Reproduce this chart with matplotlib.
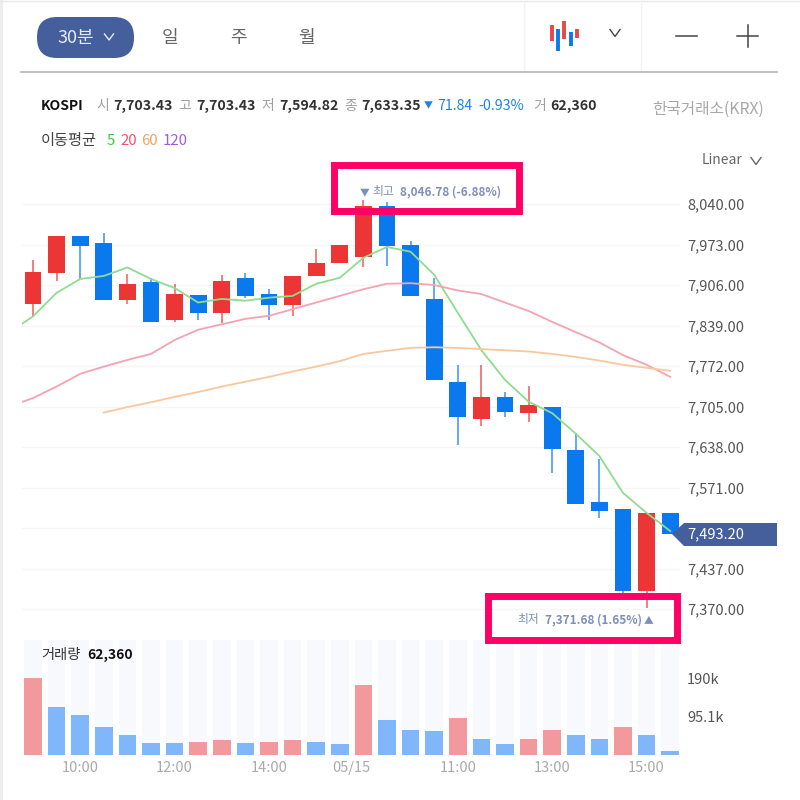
import numpy as np
import matplotlib
matplotlib.use("Agg")
import matplotlib.pyplot as plt
from matplotlib.patches import FancyBboxPatch, Polygon, Rectangle

plt.rcParams['font.family'] = ['Noto Sans CJK KR', 'DejaVu Sans']

# Candle values
opens = [7875, 7926, 7987, 7976, 7881, 7911, 7848, 7889, 7860, 7918, 7891, 7873, 7921, 7942,
         7952, 8037, 7972, 7883, 7746, 7684, 7721, 7695, 7705, 7633, 7547, 7535, 7400, 7529]
closes = [7928, 7987, 7970, 7881, 7908, 7844, 7891, 7860, 7913, 7887, 7873, 7921, 7942, 7973,
          8037, 7970, 7887, 7749, 7688, 7721, 7696, 7707, 7635, 7543, 7532, 7400, 7529, 7494]
highs = [7947, 7987, 7987, 7992, 7924, 7918, 7908, 7889, 7923, 7926, 7899, 7921, 7966, 7973,
         8047, 8043, 7978, 7918, 7774, 7774, 7729, 7739, 7705, 7661, 7618, 7535, 7529, 7529]
lows = [7854, 7913, 7916, 7881, 7875, 7844, 7845, 7848, 7843, 7884, 7848, 7855, 7921, 7942,
        7936, 7938, 7887, 7749, 7641, 7673, 7688, 7680, 7595, 7543, 7520, 7385, 7372, 7494]

# moving averages, first value sits one candle left of the axes
ma5 = [7828, 7854, 7893, 7916, 7921, 7935, 7916, 7901, 7877, 7883, 7880, 7885, 7888, 7908, 7918,
       7951, 7969, 7961, 7923, 7860, 7798, 7749, 7713, 7694, 7660, 7623, 7562, 7529, 7499]
ma20 = [7705, 7719, 7738, 7759, 7771, 7782, 7792, 7815, 7832, 7841, 7850, 7855, 7866, 7877, 7888,
        7899, 7908, 7909, 7906, 7897, 7891, 7877, 7863, 7845, 7828, 7811, 7790, 7774, 7754]
ma60 = [7695, 7704, 7712, 7721, 7729, 7738, 7746, 7754, 7763, 7771, 7780, 7792, 7797, 7802, 7803,
        7802, 7800, 7798, 7796, 7792, 7787, 7781, 7774, 7769, 7764]

volumes = [189, 118, 99, 68, 48.5, 30, 30, 33, 36, 30, 33, 36, 33, 26,
           172, 86, 62, 58, 90.5, 39.5, 26, 39.5, 62, 48.5, 39.5, 68, 48.5, 10.7]
volume_up = [1, 0, 0, 0, 0, 0, 0, 1, 1, 0, 1, 1, 0, 0,
             1, 0, 0, 0, 1, 0, 0, 1, 1, 0, 0, 1, 0, 0]

# 7,504 sits behind the current price badge, only its grid line shows
price_ticks = [8040, 7973, 7906, 7839, 7772, 7705, 7638, 7571, 7504, 7437, 7370]
price_labels = ['8,040.00', '7,973.00', '7,906.00', '7,839.00', '7,772.00', '7,705.00',
                '7,638.00', '7,571.00', '', '7,437.00', '7,370.00']
volume_ticks = [95.1, 190]
volume_tick_labels = ['95.1k', '190k']
time_ticks = [2, 6, 10, 13.5, 18, 22, 26]
time_labels = ['10:00', '12:00', '14:00', '05/15', '11:00', '13:00', '15:00']
last_price = 7493.20

RED = '#ec3636'
BLUE = '#0b79ee'
RED_V = '#f1999d'
BLUE_V = '#80b7fa'
NAVY = '#445f9c'
PINK = '#ff0066'
ANNOT = '#7f8fba'

# pixel layout of the panels
LEFT, RIGHT = 22, 680
STEP = 23.6
FIRST = 33
PX_PER_WON = 40.5 / 67


def panel(top, bottom):
    return [LEFT / 800, 1 - bottom / 800, (RIGHT - LEFT) / 800, (bottom - top) / 800]


fig = plt.figure(figsize=(8, 8), dpi=100)

# Price panel
ax = fig.add_axes(panel(175, 640))
ax.set_xlim((LEFT - FIRST) / STEP, (RIGHT - FIRST) / STEP)
ax.set_ylim(8040 - (640 - 204) / PX_PER_WON, 8040 + (204 - 175) / PX_PER_WON)

xs = np.arange(len(opens))
for i in xs:
    color = RED if closes[i] >= opens[i] else BLUE
    ax.vlines(i, lows[i], highs[i], color=color, lw=1.2, alpha=0.75, zorder=2)
    ax.bar(i, abs(closes[i] - opens[i]), bottom=min(opens[i], closes[i]), width=0.72,
           color=color, zorder=3)

ax.plot(np.arange(-1, 28), ma5, color='#8fdc90', lw=1.3, zorder=4)
ax.plot(np.arange(-1, 28), ma20, color='#f3a3b2', lw=1.3, zorder=4)
ax.plot(np.arange(3, 28), ma60, color='#f9c79e', lw=1.3, zorder=4)

ax.set_yticks(price_ticks)
ax.set_yticklabels(price_labels)
ax.yaxis.tick_right()
ax.tick_params(axis='y', length=0, pad=5, labelsize=10.5, labelcolor='#555555')
ax.set_xticks([])
ax.grid(axis='y', color='#f6f6f6', lw=1)
ax.set_axisbelow(True)
for s in ax.spines.values():
    s.set_visible(False)

# Volume panel
vax = fig.add_axes(panel(640, 755))
vax.set_xlim(ax.get_xlim())
vax.set_ylim(0, 115 * 190 / 77)
vax.bar(xs, [vax.get_ylim()[1]] * len(xs), width=0.74, color='#f7f9fc', zorder=1)
vax.bar(xs, volumes, width=0.74, color=[RED_V if u else BLUE_V for u in volume_up], zorder=2)
vax.set_yticks(volume_ticks)
vax.set_yticklabels(volume_tick_labels)
vax.yaxis.tick_right()
vax.tick_params(axis='y', length=0, pad=5, labelsize=10.5, labelcolor='#555555')
vax.set_xticks(time_ticks)
vax.set_xticklabels(time_labels)
vax.tick_params(axis='x', length=0, pad=4, labelsize=10.5, labelcolor='#aaaaaa')
for s in vax.spines.values():
    s.set_visible(False)

# Overlay in pixel coordinates for the page furniture
top = fig.add_axes([0, 0, 1, 1], zorder=10)
top.set_xlim(0, 800)
top.set_ylim(800, 0)
top.axis('off')
top.patch.set_alpha(0)


def label(x, y, s, color='#222222', size=10, weight='normal', ha='left'):
    top.text(x, y, s, color=color, fontsize=size, fontweight=weight, ha=ha, va='center')


def chevron(x, y, color='#555555', w=5, h=3.5):
    top.plot([x - w, x, x + w], [y - h, y + h, y - h], color=color, lw=1)


top.add_patch(Rectangle((0, 0), 2.5, 800, color='#eeeeee', lw=0))
top.plot([0, 800], [0.5, 0.5], color='#e8e8e8', lw=1)
top.add_patch(FancyBboxPatch((37, 17), 97, 41, boxstyle='round,pad=0,rounding_size=20',
                             color=NAVY, lw=0))
label(57, 38, '30분', color='#e6eaf4', size=13)
chevron(109, 37, color='#e6eaf4', w=4.5, h=3)
for x, s in zip([170, 238, 306], ['일', '주', '월']):
    label(x, 38, s, color='#666666', size=13, ha='center')

icon_x = [552, 558, 564, 571, 577]
icon_top = [25, 29, 21, 32, 29]
icon_bottom = [41, 51, 39, 46, 38]
icon_color = ['#e8474c', BLUE, '#e8474c', BLUE, '#e8474c']
for x, y0, y1, c in zip(icon_x, icon_top, icon_bottom, icon_color):
    top.plot([x, x], [y0, y1], color=c, lw=2.8, solid_capstyle='butt')
chevron(615, 33, color='#444444')
top.plot([676, 697], [36, 36], color='#444444', lw=1.1)
top.plot([737, 758], [36, 36], color='#444444', lw=1.1)
top.plot([747.5, 747.5], [25, 47], color='#444444', lw=1.1)
top.plot([524, 524], [0, 70], color='#f3f3f3', lw=1)
top.plot([641, 641], [0, 70], color='#f3f3f3', lw=1)
top.plot([21, 777], [72, 72], color='#b4b4b4', lw=1.2)

# Quote row
y = 106
label(41, y, 'KOSPI', weight='bold', size=10, color='#111111')
for x, s in zip([96, 178, 261, 344], ['시', '고', '저', '종']):
    label(x, y, s, color='#a0a0a0', size=10)
for x, s in zip([113, 196, 279, 361], ['7,703.43', '7,703.43', '7,594.82', '7,633.35']):
    label(x, y, s, weight='bold', size=10.2, color='#333333')
label(424, y, '▼', color='#1b84e8', size=6.5)
label(437, y, '71.84', color='#1b84e8', size=10.2, weight='medium')
label(478, y, '-0.93%', color='#1b84e8', size=10.3, weight='medium')
label(533, y, '거', color='#a0a0a0', size=10)
label(550, y, '62,360', weight='bold', size=10.2, color='#333333')
label(764, 109, '한국거래소(KRX)', color='#a8a8a8', size=11.3, ha='right')

# Moving average legend
label(41, 141, '이동평균', color='#444444', size=11)
for x, s, c in zip([107, 120, 141, 163], ['5', '20', '60', '120'],
                   ['#3ec63e', '#f0566e', '#f4a460', '#9b5de5']):
    label(x, 141, s, color=c, size=10.8)
label(702, 160, 'Linear', color='#666666', size=10)
chevron(756, 161, color='#666666')

# High and low annotations with the pink call-out boxes
label(360, 192, '▼', color=ANNOT, size=7)
label(372, 192, '최고', color=ANNOT, size=8.5)
label(400, 192, '8,046.78 (-6.88%)', color=ANNOT, size=8.5, weight='bold')
label(517, 620, '최저', color=ANNOT, size=8.5)
label(545, 620, '7,371.68 (1.65%)', color=ANNOT, size=8.5, weight='bold')
label(644, 620, '▲', color=ANNOT, size=7)
top.add_patch(Rectangle((333.5, 164.5), 185, 46, fill=False, ec=PINK, lw=5))
top.add_patch(Rectangle((487.5, 595.5), 189, 44, fill=False, ec=PINK, lw=5))

# Current price badge
top.add_patch(Polygon([(672, 534), (684, 523), (777, 523), (777, 546), (684, 546)],
                      closed=True, color=NAVY, lw=0))
label(687, 534, f'{last_price:,.2f}', color='white', size=10.5)

label(41, 655, '거래량', color='#333333', size=10.3)
label(87, 655, '62,360', color='#111111', size=10, weight='bold')

fig.savefig('out.png', dpi=100)
